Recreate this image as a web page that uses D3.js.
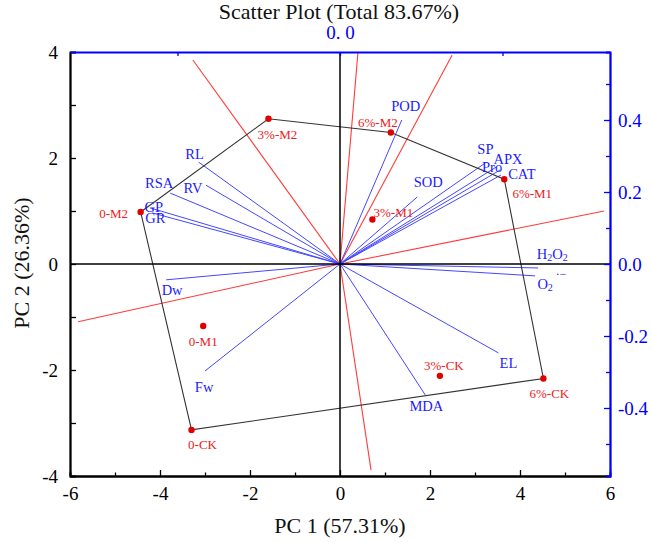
<!DOCTYPE html>
<html><head><meta charset="utf-8">
<script src="https://cdn.jsdelivr.net/npm/d3@7"></script>
<style>body{margin:0;background:#fff}</style>
</head><body>
<svg id="c" width="651" height="542"></svg>
<script>
// ---- data ----
const sampleNames = ["0-M2","3%-M2","6%-M2","3%-M1","6%-M1","6%-CK","3%-CK","0-CK","0-M1"];
const pc1Scores   = [-4.43,-1.59, 1.13, 0.72, 3.65, 4.52, 2.22,-3.30,-3.04];
const pc2Scores   = [ 0.98, 2.74, 2.48, 0.84, 1.60,-2.16,-2.11,-3.13,-1.17];
const hullOrder   = ["0-M2","3%-M2","6%-M2","6%-M1","6%-CK","0-CK"];

const variables   = ["POD","SOD","SP","APX","Pro","CAT","H2O2","O2-","EL","MDA","Fw","Dw","GP","GR","RSA","RV","RL"];
const pc1Loadings = [0.076,0.095,0.179,0.192,0.197,0.198,0.244,0.240,0.195,0.105,-0.166,-0.214,-0.234,-0.231,-0.209,-0.165,-0.174];
const pc2Loadings = [0.400,0.186,0.281,0.269,0.261,0.247,-0.011,-0.033,-0.247,-0.364,-0.297,-0.044,0.156,0.142,0.197,0.219,0.283];

// red reference lines from origin (score units)
const redLineX = [0.40, 0.69,-3.27, 2.49, 5.87,-5.82];
const redLineY = [4.00,-3.89, 3.85, 3.94, 1.00,-1.09];

const xTicks  = [-6,-4,-2,0,2,4,6];
const yTicks  = [-4,-2,0,2,4];
const yLTicks = [-0.4,-0.2,0.0,0.2,0.4];
const xLTicks = [-0.2,0,0.2];
const title = "Scatter Plot (Total 83.67%)";
const xTitle = "PC 1 (57.31%)";
const yTitle = "PC 2 (26.36%)";

// ---- layout ----
const L=70,R=610,T=52,B=476;
const serif='"Liberation Serif","Times New Roman",serif';
const BLUE="#0000ff", VBLUE="#4646ff", LBLUE="#1c1cff", RED="#ff3a3a", DRED="#e00000";

const x  = d3.scaleLinear([-6,6],[L,R]);
const y  = d3.scaleLinear([-4,4],[B,T]);
const xL = d3.scaleLinear([-0.3323,0.3323],[L,R]);
const yL = d3.scaleLinear([-0.5889,0.5889],[B,T]);

const svg = d3.select("#c");
const hy = f => (v => f(v).replace("\u2212","-"));

// red lines
const g = svg.append("g");
g.selectAll("line.red").data(redLineX).join("line")
  .attr("x1",x(0)).attr("y1",y(0))
  .attr("x2",(d,i)=>x(d)).attr("y2",(d,i)=>y(redLineY[i]))
  .attr("stroke",RED).attr("stroke-width",1.1);

// loading vectors
g.selectAll("line.vec").data(variables).join("line")
  .attr("x1",xL(0)).attr("y1",yL(0))
  .attr("x2",(d,i)=>xL(pc1Loadings[i])).attr("y2",(d,i)=>yL(pc2Loadings[i]))
  .attr("stroke",VBLUE).attr("stroke-width",1);

// hull polygon
const idx = n=>sampleNames.indexOf(n);
const hullPts = hullOrder.map(n=>[x(pc1Scores[idx(n)]),y(pc2Scores[idx(n)])]);
g.append("path").attr("d",d3.line()(hullPts)+"Z")
  .attr("fill","none").attr("stroke","#333").attr("stroke-width",1.1);

// zero lines
g.append("line").attr("x1",x(0)).attr("x2",x(0)).attr("y1",T).attr("y2",B).attr("stroke","#000").attr("stroke-width",1.5);
g.append("line").attr("x1",L).attr("x2",R).attr("y1",y(0)).attr("y2",y(0)).attr("stroke","#000").attr("stroke-width",1.5);

// points
g.selectAll("circle").data(sampleNames).join("circle")
  .attr("cx",(d,i)=>x(pc1Scores[i])).attr("cy",(d,i)=>y(pc2Scores[i]))
  .attr("r",3.2).attr("fill",DRED);

// sample labels
const sOff = {"0-M2":[-27,1],"3%-M2":[9,16],"6%-M2":[-13,-10],"3%-M1":[21,-7],"6%-M1":[28,14],
  "6%-CK":[6,15],"3%-CK":[4,-10],"0-CK":[11,15],"0-M1":[0,15]};
g.selectAll("text.s").data(sampleNames).join("text")
  .attr("x",(d,i)=>x(pc1Scores[i])+sOff[d][0]).attr("y",(d,i)=>y(pc2Scores[i])+sOff[d][1])
  .attr("text-anchor","middle").attr("dominant-baseline","central")
  .attr("font-family",serif).attr("font-size",13).attr("fill","#ee2020").text(d=>d);

// variable labels
const vOff = {POD:[4,-14],SOD:[11,-15],SP:[0,-14],APX:[12,-8],Pro:[-8,-3],CAT:[21,-1],
  H2O2:[14,-14],"O2-":[17,8],EL:[10,10],MDA:[1,11],Fw:[-1,16],Dw:[6,10],GP:[4,-1],GR:[3,5],
  RSA:[-11,-10],RV:[-13,3],RL:[-4,-8]};
variables.forEach((v,i)=>{
  const t = g.append("text")
    .attr("x",xL(pc1Loadings[i])+vOff[v][0]).attr("y",yL(pc2Loadings[i])+vOff[v][1])
    .attr("text-anchor","middle").attr("dominant-baseline","central")
    .attr("font-family",serif).attr("font-size",14.5).attr("fill",LBLUE);
  if(v==="H2O2"){
    t.append("tspan").text("H");
    t.append("tspan").attr("font-size",10).attr("dy",3).text("2");
    t.append("tspan").attr("dy",-3).text("O");
    t.append("tspan").attr("font-size",10).attr("dy",3).text("2");
  } else if(v==="O2-"){
    t.append("tspan").text("O");
    t.append("tspan").attr("font-size",10).attr("dy",3).text("2");
    t.append("tspan").attr("font-size",12).attr("dx",3).attr("dy",-13).text("·−");
  } else t.text(v);
});

// axes
function style(sel,color,fs){
  sel.select(".domain").attr("stroke",color).attr("stroke-width",1.8);
  sel.selectAll(".tick line").attr("stroke",color).attr("stroke-width",1.3);
  sel.selectAll("text").attr("fill",color).attr("font-family",serif).attr("font-size",fs);
}
const minor = (a,b,s)=>d3.range(a,b+1e-9,s);
// bottom
svg.append("g").attr("transform",`translate(0,${B})`)
  .call(d3.axisBottom(x).tickValues(minor(-5,5,2)).tickSize(-3.5).tickFormat("")).call(s=>style(s,"#000",19));
svg.append("g").attr("transform",`translate(0,${B})`)
  .call(d3.axisBottom(x).tickValues(xTicks).tickSize(-6).tickSizeOuter(0).tickPadding(11).tickFormat(hy(d3.format("d")))).call(s=>style(s,"#000",19));
// left
svg.append("g").attr("transform",`translate(${L},0)`)
  .call(d3.axisLeft(y).tickValues(minor(-3,3,2)).tickSize(-6).tickFormat("")).call(s=>style(s,"#000",19));
svg.append("g").attr("transform",`translate(${L},0)`)
  .call(d3.axisLeft(y).tickValues(yTicks).tickSize(-6).tickSizeOuter(0).tickPadding(12).tickFormat(hy(d3.format("d")))).call(s=>style(s,"#000",19));
// top
svg.append("g").attr("class","blueax").attr("transform",`translate(0,${T})`)
  .call(d3.axisTop(xL).tickValues(xLTicks).tickSize(-4).tickSizeOuter(0).tickPadding(13).tickFormat(d=>d===0?"0. 0":"")).call(s=>style(s,BLUE,19));
// right
svg.append("g").attr("class","blueax").attr("transform",`translate(${R},0)`)
  .call(d3.axisRight(yL).tickValues([-0.5,-0.3,-0.1,0.1,0.3,0.5]).tickSize(-4).tickFormat("")).call(s=>style(s,BLUE,19));
svg.append("g").attr("class","blueax").attr("transform",`translate(${R},0)`)
  .call(d3.axisRight(yL).tickValues(yLTicks).tickSize(-6).tickSizeOuter(0).tickPadding(8).tickFormat(hy(d3.format(".1f")))).call(s=>style(s,BLUE,19));

// titles
svg.append("text").attr("x",339).attr("y",19).attr("text-anchor","middle")
  .attr("font-family",serif).attr("font-size",22).attr("fill","#111").text(title);
svg.append("text").attr("x",340).attr("y",533).attr("text-anchor","middle")
  .attr("font-family",serif).attr("font-size",22).attr("fill","#111").text(xTitle);
svg.append("text").attr("transform","translate(29,263) rotate(-90)").attr("text-anchor","middle")
  .attr("font-family",serif).attr("font-size",22).attr("fill","#111").text(yTitle);
</script>
</body></html>
